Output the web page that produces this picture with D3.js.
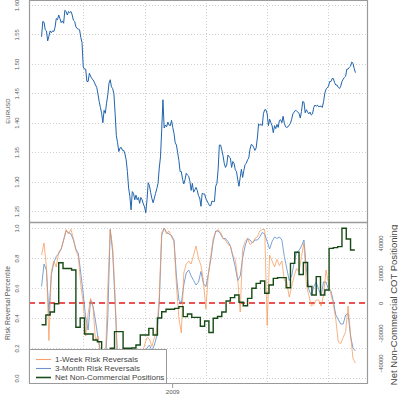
<!DOCTYPE html>
<html><head><meta charset="utf-8">
<script src="https://cdn.jsdelivr.net/npm/d3@7"></script>
<style>body{margin:0;background:#fff}svg{display:block}text{font-family:"Liberation Sans",Arial,sans-serif}</style>
</head><body><svg id="c" width="398" height="400"></svg>
<script>
// ---------- data ----------
const eurStart = "2008-06-02";
const eurStepDays = 2;
const eurusd = [1.546,1.572,1.571,1.558,1.556,1.539,1.547,1.556,1.553,1.556,1.555,1.562,1.577,1.575,1.583,1.577,1.570,1.573,1.569,1.591,
1.589,1.583,1.589,1.587,1.589,1.583,1.574,1.572,1.563,1.560,1.559,1.558,1.545,1.536,1.495,1.491,1.491,1.470,1.470,1.484,
1.479,1.475,1.473,1.469,1.464,1.460,1.449,1.436,1.426,1.416,1.400,1.421,1.416,1.433,1.447,1.467,1.473,1.461,1.458,1.449,
1.416,1.378,1.366,1.351,1.357,1.358,1.353,1.353,1.347,1.337,1.317,1.289,1.275,1.252,1.283,1.280,1.269,1.277,1.269,1.273,
1.263,1.273,1.269,1.262,1.257,1.247,1.269,1.298,1.293,1.281,1.271,1.264,1.272,1.280,1.288,1.297,1.323,1.342,1.388,1.439,
1.391,1.396,1.393,1.401,1.396,1.395,1.404,1.392,1.382,1.366,1.362,1.349,1.336,1.317,1.317,1.304,1.296,1.303,1.314,1.311,
1.309,1.300,1.285,1.297,1.282,1.286,1.290,1.285,1.276,1.272,1.258,1.280,1.279,1.279,1.271,1.267,1.263,1.259,1.259,1.267,
1.266,1.266,1.292,1.297,1.320,1.362,1.362,1.354,1.344,1.331,1.324,1.328,1.345,1.342,1.340,1.324,1.334,1.331,1.320,1.317,
1.303,1.292,1.307,1.321,1.307,1.319,1.329,1.331,1.337,1.340,1.355,1.363,1.362,1.358,1.353,1.357,1.374,1.398,1.396,1.397,
1.395,1.416,1.422,1.422,1.415,1.395,1.406,1.400,1.395,1.383,1.395,1.390,1.397,1.392,1.404,1.405,1.400,1.411,1.399,1.393,
1.392,1.393,1.396,1.399,1.406,1.415,1.418,1.421,1.420,1.418,1.416,1.408,1.419,1.436,1.435,1.417,1.422,1.418,1.415,1.418,
1.413,1.415,1.426,1.430,1.428,1.430,1.427,1.428,1.428,1.426,1.436,1.450,1.457,1.459,1.462,1.470,1.470,1.475,1.475,1.468,
1.464,1.464,1.460,1.458,1.462,1.470,1.474,1.477,1.479,1.491,1.491,1.494,1.496,1.503,1.501,1.492,1.485];
const rrStart = "2008-06-02";
const rrStepDays = 4;
const rr1Week = [0.82,0.90,0.74,0.25,0.71,0.78,0.74,0.84,0.86,0.92,0.99,0.96,0.99,0.93,0.85,0.81,0.62,0.50,0.28,0.43,
0.53,0.47,0.25,0.28,0.15,0.08,0.10,0.60,0.99,0.87,0.55,0.10,0.08,0.03,0.06,0.02,0.05,0.03,0.08,0.04,
0.10,0.16,0.22,0.27,0.26,0.21,0.27,0.32,0.55,0.97,1.00,0.96,0.98,0.94,0.91,0.62,0.40,0.30,0.70,0.76,
0.78,0.76,0.82,0.88,0.80,0.75,0.65,0.46,0.69,0.81,0.93,0.97,0.99,0.97,0.93,0.92,0.89,0.88,0.82,0.79,
0.66,0.44,0.86,0.91,0.93,0.89,0.90,0.93,0.94,0.98,0.99,0.99,0.35,0.82,0.78,0.74,0.79,0.75,0.78,0.65,
0.64,0.54,0.61,0.68,0.73,0.71,0.81,0.90,0.62,0.55,0.48,0.49,0.52,0.52,0.48,0.55,0.72,0.63,0.56,0.49,
0.39,0.24,0.23,0.27,0.31,0.48,0.29,0.13,0.10];
const rr3Month = [0.61,0.76,0.72,0.43,0.69,0.77,0.81,0.83,0.86,0.92,0.98,0.97,0.96,0.92,0.86,0.83,0.70,0.56,0.40,0.32,
0.52,0.48,0.38,0.27,0.18,0.12,0.08,0.40,0.99,0.84,0.50,0.12,0.06,0.05,0.04,0.03,0.02,0.03,0.05,0.06,
0.07,0.10,0.14,0.20,0.22,0.18,0.22,0.28,0.50,0.95,1.00,0.97,0.96,0.95,0.92,0.68,0.52,0.50,0.62,0.70,
0.72,0.68,0.65,0.62,0.64,0.71,0.63,0.61,0.69,0.79,0.91,0.98,0.98,0.96,0.93,0.93,0.91,0.88,0.81,0.74,
0.65,0.68,0.80,0.88,0.93,0.92,0.90,0.92,0.92,0.94,0.97,0.96,0.91,0.86,0.91,0.94,0.93,0.94,0.92,0.81,
0.73,0.65,0.68,0.77,0.84,0.85,0.88,0.92,0.73,0.59,0.55,0.61,0.64,0.59,0.55,0.64,0.64,0.59,0.58,0.51,
0.42,0.39,0.36,0.36,0.42,0.43,0.28,0.20,0.18];
const cotStart = "2008-06-02";
const cotStepDays = 7;
const netPositions = [-14500,-8000,-6000,-500,26800,23000,23000,22000,-16200,-10000,-20700,-20700,-24700,-25800,-33000,-35000,-30200,-19100,-19100,-30200,
-30200,-30000,-28000,-21300,-21300,-16900,-21300,-10000,-5800,-4200,-4200,-3600,-2400,-9100,-7300,-9600,-9600,-15500,-12000,-19700,
-10200,-9000,-6000,1300,3600,5300,500,-1800,3100,9800,13100,14700,6500,12000,16400,16900,16900,10200,26400,33800,
19000,27000,11000,5300,17600,5300,8700,36400,36900,37600,49800,42700,35300,35300];
const gridDates = ["2008-08-09","2008-11-17","2009-02-25","2009-06-05","2009-09-13"];
const yearTicks = ["2009-01-01"];
const eurTicks = [1.25,1.30,1.35,1.40,1.45,1.50,1.55,1.60];
const rrTicks = [0,0.2,0.4,0.6,0.8,1.0];
const cotTicks = [-40000,-20000,0,20000,40000];
const neutralLevel = 0.5;
const legendLabels = ["1-Week Risk Reversals","3-Month Risk Reversals","Net Non-Commercial Positions"];
const titles = {eur:"EURUSD", rr:"Risk Reversal Percentile", cot:"Net Non-Commercial COT Positioning"};

// ---------- setup ----------
const parse = d3.utcParse("%Y-%m-%d");
const e0 = parse(eurStart), r0 = parse(rrStart), c0 = parse(cotStart);
const eurData = eurusd.map((v,i)=>({d:d3.utcDay.offset(e0,i*eurStepDays),v}));
const w1Data = rr1Week.map((v,i)=>({d:d3.utcDay.offset(r0,i*rrStepDays),v}));
const m3Data = rr3Month.map((v,i)=>({d:d3.utcDay.offset(r0,i*rrStepDays),v}));
const cotData = netPositions.map((v,i)=>({d:d3.utcDay.offset(c0,i*cotStepDays),v}));

const L=29, R=368, T1=0, B1=222, T2=222, B2=384;
const ext = d3.extent(eurData.concat(cotData), d=>d.d);
const pad = (ext[1]-ext[0])*0.04;
const x = d3.scaleUtc().domain([new Date(+ext[0]-pad), new Date(+ext[1]+pad)]).range([L,R]);
const yE = d3.scaleLinear().domain([1.2313,1.6085]).range([B1,T1]);
const yR = d3.scaleLinear().domain([-0.04,1.04]).range([B2,T2]);
const yC = d3.scaleLinear().domain([-54000,54000]).range([B2,T2]);

const svg = d3.select("#c");
svg.append("rect").attr("width",398).attr("height",400).attr("fill","#fff");
const gridCol="#cfcfcf", axisCol="#9a9a9a", txtCol="#555";

function grid(yScale, ticks, top, bottom){
  const g = svg.append("g");
  g.selectAll(".h").data(ticks).join("line")
    .attr("x1",L).attr("x2",R).attr("y1",d=>Math.round(yScale(d))+0.5).attr("y2",d=>Math.round(yScale(d))+0.5)
    .attr("stroke",gridCol).attr("stroke-dasharray","1,2");
  g.selectAll(".v").data(gridDates.map(parse)).join("line")
    .attr("x1",d=>Math.round(x(d))+0.5).attr("x2",d=>Math.round(x(d))+0.5).attr("y1",top).attr("y2",bottom)
    .attr("stroke",gridCol).attr("stroke-dasharray","1,2");
}
grid(yE, eurTicks, T1, B1);
grid(yR, rrTicks, T2, B2);

// top line
svg.append("path").datum(eurData)
  .attr("d", d3.line().x(d=>x(d.d)).y(d=>yE(d.v)))
  .attr("fill","none").attr("stroke","#2064ad").attr("stroke-width",1);

// bottom
svg.append("line").attr("x1",L).attr("x2",R).attr("y1",yR(neutralLevel)).attr("y2",yR(neutralLevel))
  .attr("stroke","#e31a1c").attr("stroke-width",1.5).attr("stroke-dasharray","6,4");
svg.append("path").datum(m3Data)
  .attr("d", d3.line().x(d=>x(d.d)).y(d=>yR(d.v)))
  .attr("fill","none").attr("stroke","#5b8ccc").attr("stroke-opacity",0.8).attr("stroke-width",1);
svg.append("path").datum(w1Data)
  .attr("d", d3.line().x(d=>x(d.d)).y(d=>yR(d.v)))
  .attr("fill","none").attr("stroke","#f7934f").attr("stroke-opacity",0.7).attr("stroke-width",1);
svg.append("path").datum(cotData)
  .attr("d", d3.line().curve(d3.curveStepAfter).x(d=>x(d.d)).y(d=>yC(d.v)))
  .attr("fill","none").attr("stroke","#164a16").attr("stroke-width",1.4);

// frames
svg.append("line").attr("x1",L+0.5).attr("x2",L+0.5).attr("y1",0).attr("y2",B2).attr("stroke",axisCol).attr("stroke-width",1.2);
svg.append("line").attr("x1",R-0.5).attr("x2",R-0.5).attr("y1",0).attr("y2",B2).attr("stroke",axisCol).attr("stroke-width",1.2);
svg.append("line").attr("x1",L).attr("x2",R).attr("y1",0.5).attr("y2",0.5).attr("stroke",axisCol).attr("stroke-width",1.2);
svg.append("line").attr("x1",L).attr("x2",R).attr("y1",T2+0.5).attr("y2",T2+0.5).attr("stroke",axisCol).attr("stroke-width",1.5);
svg.append("line").attr("x1",L).attr("x2",R).attr("y1",B2-0.5).attr("y2",B2-0.5).attr("stroke",axisCol).attr("stroke-width",1.2);

// legend
const lg = svg.append("g");
lg.append("rect").attr("x",L+0.5).attr("y",349.5).attr("width",137).attr("height",34).attr("fill","#fff").attr("stroke",axisCol);
const legCols = ["#f8a06c","#6f93c8","#1c4f1c"];
legendLabels.forEach((t,i)=>{
  const yy = 359.5 + i*9;
  lg.append("line").attr("x1",36).attr("x2",51).attr("y1",yy).attr("y2",yy).attr("stroke",legCols[i]).attr("stroke-width",i==2?1.6:1.1);
  lg.append("text").attr("x",55).attr("y",yy+2.8).attr("font-size",8).attr("fill","#444").text(t);
});

// axes
function rotAxis(axis, tx, off){
  const g = svg.append("g").attr("transform",`translate(${tx},0)`).call(axis);
  g.select(".domain").remove();
  g.selectAll(".tick line").remove();
  g.selectAll(".tick text").attr("transform","rotate(-90)").attr("x",0).attr("y",off).attr("dy",0)
    .attr("text-anchor","middle").attr("fill",txtCol).attr("font-size",5.8).attr("font-family",null);
  return g;
}
rotAxis(d3.axisLeft(yE).tickValues(eurTicks).tickFormat(d3.format(".2f")), L, -10);
rotAxis(d3.axisLeft(yR).tickValues(rrTicks).tickFormat(d3.format(".1f")), L, -10);
rotAxis(d3.axisRight(yC).tickValues(cotTicks).tickFormat(d=>String(d)), R, 15);

const xa = svg.append("g").attr("transform",`translate(0,${B2})`)
  .call(d3.axisBottom(x).tickValues(yearTicks.map(parse)).tickFormat(d3.utcFormat("%Y")).tickSize(4).tickPadding(2));
xa.select(".domain").remove();
xa.selectAll(".tick line").attr("stroke",axisCol);
xa.selectAll(".tick text").attr("font-size",6.2).attr("fill",txtCol).attr("font-family",null);

function vtitle(t, cx, cy, fs, col){
  svg.append("text").attr("transform",`translate(${cx},${cy}) rotate(-90)`).attr("text-anchor","middle")
    .attr("font-size",fs).attr("fill",col).text(t);
}
vtitle(titles.eur, 10, (T1+B1)/2, 6, txtCol);
vtitle(titles.rr, 10, (T2+B2)/2, 6.8, txtCol);
vtitle(titles.cot, 397, 305, 9.5, "#444");
</script></body></html>
